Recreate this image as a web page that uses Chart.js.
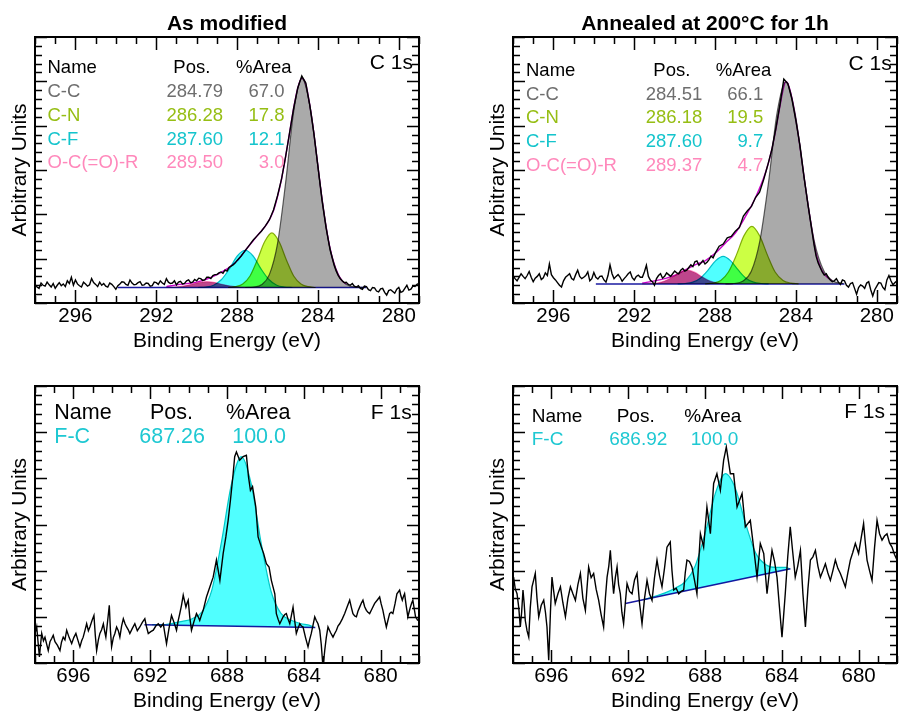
<!DOCTYPE html>
<html><head><meta charset="utf-8">
<script src="https://cdn.jsdelivr.net/npm/chart.js@4.4.1/dist/chart.umd.min.js"></script>
<style>
html,body{margin:0;padding:0;background:#fff;}
body{width:900px;height:717px;overflow:hidden;position:relative;}
canvas{position:absolute;}
</style></head>
<body>
<canvas id="c1" width="450" height="360" style="left:0;top:0"></canvas>
<canvas id="c2" width="450" height="360" style="left:450px;top:0"></canvas>
<canvas id="c3" width="450" height="360" style="left:0;top:360px"></canvas>
<canvas id="c4" width="450" height="360" style="left:450px;top:360px"></canvas>
<script>
// ---------- tick labels ----------
const xTicksC1s = [296, 292, 288, 284, 280];
const xTicksF1s = [696, 692, 688, 684, 680];

// ---------- legend tables ----------
const c1sNames = ['C-C', 'C-N', 'C-F', 'O-C(=O)-R'];
const c1sModPos = ['284.79', '286.28', '287.60', '289.50'];
const c1sModArea = ['67.0', '17.8', '12.1', '3.0'];
const c1sAnnPos = ['284.51', '286.18', '287.60', '289.37'];
const c1sAnnArea = ['66.1', '19.5', '9.7', '4.7'];
const f1sNames = ['F-C'];
const f1sModPos = ['687.26'];
const f1sModArea = ['100.0'];
const f1sAnnPos = ['686.92'];
const f1sAnnArea = ['100.0'];

// ---------- C 1s, as modified: raw spectrum [eV, counts] ----------
const c1sModRaw = [
[298.0,.42],[297.9,.36],[297.8,.33],[297.7,.45],[297.6,.40],[297.5,.38],[297.4,.47],[297.3,.41],[297.2,.36],[297.1,.44],
[297.0,.33],[296.9,.40],[296.8,.46],[296.7,.39],[296.6,.43],[296.5,.37],[296.4,.50],[296.3,.44],[296.2,.58],[296.1,.40],
[296.0,.52],[295.9,.43],[295.8,.39],[295.7,.36],[295.6,.47],[295.5,.43],[295.4,.38],[295.3,.41],[295.2,.55],[295.1,.46],
[295.0,.42],[294.9,.37],[294.8,.47],[294.7,.40],[294.6,.44],[294.5,.38],[294.4,.36],[294.3,.45],[294.2,.42],[294.1,.37],
[294.0,.31],[293.9,.39],[293.8,.43],[293.7,.48],[293.6,.47],[293.5,.42],[293.4,.40],[293.3,.52],[293.2,.45],[293.1,.41],
[293.0,.42],[292.9,.46],[292.8,.48],[292.7,.40],[292.6,.41],[292.5,.45],[292.4,.44],[292.3,.38],[292.2,.39],[292.1,.47],
[292.0,.46],[291.9,.42],[291.8,.50],[291.7,.45],[291.6,.42],[291.5,.55],[291.4,.47],[291.3,.44],[291.2,.45],[291.1,.50],
[291.0,.41],[290.9,.47],[290.8,.49],[290.7,.43],[290.6,.44],[290.5,.50],[290.4,.52],[290.3,.46],[290.2,.47],[290.1,.53],
[290.0,.50],[289.9,.56],[289.8,.55],[289.7,.51],[289.6,.52],[289.5,.58],[289.4,.58],[289.3,.55],[289.2,.62],[289.1,.64],
[289.0,.64],[288.9,.68],[288.8,.70],[288.7,.67],[288.6,.74],[288.5,.72],[288.4,.80],[288.3,.83],[288.2,.86],[288.1,.90],
[288.0,.96],[287.8,1.06],[287.6,1.18],[287.4,1.30],[287.2,1.42],[287.0,1.52],[286.8,1.62],[286.6,1.74],[286.4,1.88],[286.2,2.10],
[286.0,2.42],[285.8,2.80],[285.6,3.30],[285.4,3.85],[285.2,4.40],[285.0,4.85],[284.8,5.12],[284.6,4.96],[284.4,4.45],[284.2,3.82],
[284.0,3.08],[283.8,2.32],[283.6,1.70],[283.4,1.20],[283.2,.85],
[283.1,.72],[283.0,.62],[282.9,.55],[282.8,.50],[282.7,.46],[282.6,.47],[282.5,.42],[282.4,.40],[282.3,.44],[282.2,.38],
[282.1,.36],[282.0,.39],[281.9,.33],[281.8,.31],[281.7,.38],[281.6,.37],[281.5,.30],[281.4,.28],[281.3,.35],[281.2,.34],
[281.1,.27],[281.0,.25],[280.9,.32],[280.8,.33],[280.7,.24],[280.6,.18],[280.5,.28],[280.4,.30],[280.3,.26],[280.2,.22],
[280.1,.31],[280.0,.35],[279.9,.24],[279.8,.26],[279.7,.33],[279.6,.40],[279.5,.29],[279.4,.31],[279.3,.38],[279.2,.37],
[279.1,.42],[279.0,.44]];
const c1sModEnvE = [291.5,291,290,289.5,289,288.5,288,287.5,287,286.5,286.2,286,285.8,285.6,285.4,285.2,285,284.8,284.6,284.4,284.2,284,283.8,283.6,283.4,283.2,283,282.8,282.6];
const c1sModEnv = [0.37,0.41,0.47,0.54,0.64,0.77,0.95,1.24,1.52,1.8,2.08,2.4,2.8,3.3,3.85,4.4,4.85,5.07,4.93,4.45,3.82,3.08,2.35,1.73,1.23,0.88,0.645,0.5,0.43];
const c1sModBaseE = [293.9, 281.6];
const c1sModBase = [0.35, 0.35];
const c1sModCCE = [281.65,282.1,282.55,283.0,283.45,283.9,284.35,284.8,285.2,285.6,286.0,286.4,286.8,287.2,287.6];
const c1sModCC = [0.35,0.36,0.41,0.645,1.34,2.71,4.32,5.07,4.32,2.71,1.34,0.645,0.41,0.36,0.35];
const c1sModCNE = [284.12,284.48,284.84,285.20,285.56,285.92,286.28,286.64,287.00,287.36,287.72,288.08,288.44];
const c1sModCN = [0.35,0.37,0.43,0.61,0.97,1.38,1.58,1.38,0.97,0.61,0.43,0.37,0.35];
const c1sModCFE = [285.26,285.65,286.04,286.43,286.82,287.21,287.60,287.99,288.38,288.77,289.16,289.55,289.94];
const c1sModCF = [0.35,0.36,0.40,0.53,0.77,1.06,1.19,1.06,0.77,0.53,0.40,0.36,0.35];
const c1sModOCE = [287.5,287.9,288.3,288.7,289.1,289.5,289.9,290.3,290.7,291.1,291.5];
const c1sModOC = [0.35,0.36,0.38,0.415,0.46,0.48,0.46,0.415,0.38,0.36,0.35];

// ---------- C 1s, annealed ----------
const c1sAnnRaw = [
[298.0,.62],[297.9,.55],[297.8,.50],[297.7,.58],[297.6,.66],[297.5,.60],[297.4,.55],[297.3,.62],[297.2,.71],[297.1,.58],
[297.0,.48],[296.9,.56],[296.8,.60],[296.7,.66],[296.6,.53],[296.5,.57],[296.4,.68],[296.3,.62],[296.2,.88],[296.1,.64],
[296.0,.57],[295.9,.52],[295.8,.46],[295.7,.40],[295.6,.36],[295.5,.50],[295.4,.58],[295.3,.62],[295.2,.66],[295.1,.55],
[295.0,.52],[294.9,.64],[294.8,.74],[294.7,.60],[294.6,.55],[294.5,.58],[294.4,.62],[294.3,.70],[294.2,.50],[294.1,.55],
[294.0,.69],[293.9,.58],[293.8,.54],[293.7,.60],[293.6,.61],[293.5,.52],[293.4,.47],[293.3,.62],[293.2,.86],[293.1,.66],
[293.0,.55],[292.9,.60],[292.8,.64],[292.7,.58],[292.6,.49],[292.5,.55],[292.4,.60],[292.3,.66],[292.2,.70],[292.1,.57],
[292.0,.52],[291.9,.60],[291.8,.63],[291.7,.58],[291.6,.58],[291.5,.70],[291.4,.85],[291.3,.60],[291.2,.51],[291.1,.48],
[291.0,.40],[290.9,.55],[290.8,.62],[290.7,.66],[290.6,.56],[290.5,.60],[290.4,.68],[290.3,.64],[290.2,.60],[290.1,.66],
[290.0,.72],[289.9,.68],[289.8,.66],[289.7,.74],[289.6,.78],[289.5,.72],[289.4,.74],[289.3,.80],[289.2,.86],[289.1,.82],
[289.0,.93],[288.9,.95],[288.8,.85],[288.7,.90],[288.6,.96],[288.5,.88],[288.4,.92],[288.3,.98],[288.2,1.06],[288.1,1.02],
[288.0,1.12],[287.8,1.28],[287.6,1.33],[287.4,1.47],[287.2,1.50],[287.0,1.62],[286.8,1.70],[286.6,1.96],[286.4,2.08],[286.2,2.18],
[286.0,2.38],[285.8,2.50],[285.6,2.78],[285.4,3.10],[285.2,3.45],[285.0,3.92],[284.8,4.45],[284.6,5.05],[284.4,4.95],[284.2,4.60],
[284.0,4.10],[283.8,3.55],[283.6,2.85],[283.4,2.20],[283.2,1.60],
[283.1,1.30],[283.0,1.05],[282.9,.90],[282.8,.80],[282.7,.70],[282.6,.63],[282.5,.66],[282.4,.58],[282.3,.52],[282.2,.48],
[282.1,.50],[282.0,.55],[281.9,.47],[281.8,.42],[281.7,.52],[281.6,.50],[281.5,.40],[281.4,.36],[281.3,.44],[281.2,.46],
[281.1,.33],[281.0,.20],[280.9,.35],[280.8,.41],[280.7,.38],[280.6,.33],[280.5,.45],[280.4,.48],[280.3,.30],[280.2,.16],
[280.1,.30],[280.0,.38],[279.9,.46],[279.8,.45],[279.7,.35],[279.6,.30],[279.5,.52],[279.4,.62],[279.3,.50],[279.2,.41],
[279.1,.46],[279.0,.50]];
const c1sAnnEnvE = [291.6,291,290.5,290,289.5,289,288.5,288,287.5,287,286.5,286,285.5,285.2,285,284.8,284.6,284.51,284.4,284.2,284,283.8,283.6,283.4,283.2,283,282.8,282.6,282.4,282.2];
const c1sAnnEnv = [0.45,0.5,0.55,0.62,0.74,0.86,0.95,1.12,1.35,1.58,1.95,2.38,2.95,3.45,3.9,4.42,4.88,4.99,4.95,4.62,4.12,3.52,2.84,2.2,1.62,1.1,0.82,0.65,0.56,0.5];
const c1sAnnBaseE = [293.9, 281.6];
const c1sAnnBase = [0.43, 0.43];
const c1sAnnCCE = [281.66,282.14,282.61,283.09,283.56,284.04,284.51,284.94,285.36,285.79,286.21,286.64,287.06,287.49];
const c1sAnnCC = [0.44,0.49,0.715,1.39,2.71,4.27,4.99,4.27,2.71,1.39,0.715,0.49,0.44,0.43];
const c1sAnnCNE = [283.87,284.26,284.64,285.03,285.41,285.80,286.18,286.57,286.95,287.34,287.72,288.11,288.49];
const c1sAnnCN = [0.43,0.45,0.51,0.70,1.08,1.52,1.73,1.52,1.08,0.70,0.51,0.45,0.43];
const c1sAnnCFE = [285.35,285.73,286.10,286.48,286.85,287.23,287.60,287.98,288.35,288.73,289.10,289.48,289.85];
const c1sAnnCF = [0.43,0.44,0.47,0.56,0.74,0.95,1.05,0.95,0.74,0.56,0.47,0.44,0.43];
const c1sAnnOCE = [287.12,287.50,287.87,288.25,288.62,289.00,289.37,289.75,290.12,290.50,290.87,291.25,291.62];
const c1sAnnOC = [0.43,0.435,0.45,0.495,0.585,0.69,0.74,0.69,0.585,0.495,0.45,0.435,0.43];

// ---------- F 1s, as modified ----------
const f1sModRaw = [
[698.00,.92],[697.95,.70],[697.91,.78],[697.84,.45],[697.77,.13],[697.71,.40],[697.65,.64],[697.56,.48],[697.48,.56],[697.40,.42],
[697.31,.27],[697.22,.46],[697.13,.53],[697.05,.60],[696.96,.46],[696.83,.38],[696.70,.27],[696.62,.45],[696.53,.56],[696.44,.50],
[696.35,.71],[696.22,.55],[696.09,.42],[695.98,.55],[695.87,.64],[695.77,.50],[695.66,.35],[695.57,.48],[695.49,.56],[695.40,.70],
[695.31,.85],[695.22,.70],[695.14,.78],[695.03,.92],[694.93,1.03],[694.86,.60],[694.79,.27],[694.70,.50],[694.62,.64],[694.53,.72],
[694.44,.85],[694.37,.68],[694.31,.56],[694.22,.90],[694.13,1.25],[694.07,.70],[694.01,.35],[693.92,.55],[693.84,.64],[693.75,.78],
[693.66,.70],[693.58,.56],[693.49,.80],[693.40,.96],[693.31,.85],[693.23,.78],[693.14,.72],[693.06,.64],[692.93,.75],[692.80,.85],
[692.67,.70],[692.54,.78],[692.41,.88],[692.28,.96],[692.19,.78],[692.10,.64],[691.97,.68],[691.84,.71],[691.71,.80],[691.58,.85],
[691.45,.78],[691.32,.85],[691.23,.62],[691.15,.42],[691.02,.75],[690.89,1.03],[690.76,.88],[690.63,.71],[690.55,.90],[690.46,1.07],
[690.37,1.25],[690.28,1.47],[690.14,1.21],[690.08,1.30],[690.02,1.36],[689.94,1.00],[689.85,.71],[689.72,.90],[689.59,1.07],[689.50,1.00],
[689.42,.92],[689.33,1.04],[689.24,1.14],[689.07,1.43],[688.89,1.65],[688.72,1.86],[688.55,2.23],[688.37,1.79],[688.20,2.37],[688.06,2.73],
[687.94,3.09],[687.82,3.53],[687.68,4.10],[687.60,4.47],[687.51,4.57],[687.34,4.39],[687.16,4.47],[686.99,4.50],[686.88,4.03],[686.78,3.74],
[686.67,3.82],[686.61,3.67],[686.50,3.38],[686.38,2.73],[686.21,2.51],[686.09,2.37],[685.95,2.15],[685.81,2.08],[685.69,1.79],[685.51,1.50],
[685.43,1.07],[685.34,.95],[685.25,.85],[685.17,.92],[685.08,1.00],[684.99,1.05],[684.91,1.07],[684.82,.95],[684.73,.85],[684.65,1.02],
[684.56,1.21],[684.47,.90],[684.39,.64],[684.30,.75],[684.21,.85],[684.12,.80],[684.04,.78],[683.91,.55],[683.78,.35],[683.70,.50],
[683.61,.64],[683.52,.82],[683.43,1.00],[683.35,.92],[683.26,.85],[683.17,.71],[683.09,.40],[683.00,-0.10],[682.91,.27],[682.83,.55],
[682.74,.78],[682.61,.66],[682.48,.56],[682.39,.64],[682.30,.71],[682.22,.80],[682.13,.85],[682.00,.95],[681.87,1.07],[681.74,1.22],
[681.61,1.36],[681.52,1.20],[681.44,1.07],[681.35,1.02],[681.26,1.00],[681.18,1.12],[681.09,1.21],[681.00,1.30],[680.92,1.36],[680.83,1.22],
[680.74,1.14],[680.66,1.10],[680.57,1.07],[680.44,1.18],[680.31,1.29],[680.18,1.36],[680.05,1.43],[679.97,1.28],[679.88,1.14],[679.79,.95],
[679.70,.78],[679.62,.92],[679.53,1.07],[679.45,1.10],[679.36,1.07],[679.25,1.28],[679.15,1.50],[679.01,1.58],[678.94,1.45],[678.87,1.36],
[678.81,1.44],[678.75,1.50],[678.67,1.25],[678.58,1.00],[678.52,1.10],[678.45,1.21],[678.38,1.30],[678.32,1.36],[678.25,1.18],[678.18,1.00],
[678.12,.96],[678.06,.92]];
const f1sModBaseE = [692.3, 683.4];
const f1sModBase = [0.83, 0.77];
const f1sModFCE = [683.45,683.66,684.18,684.69,685.20,685.71,686.23,686.74,687.25,687.76,688.28,688.79,689.30,689.81,690.33,690.84,691.35,691.90];
const f1sModFC = [0.77,0.81,0.855,0.93,1.08,1.56,2.62,3.88,4.47,3.89,2.64,1.58,1.11,0.96,0.90,0.86,0.83,0.83];

// ---------- F 1s, annealed ----------
const f1sAnnRaw = [
[697.97,1.86],[697.88,1.60],[697.79,1.50],[697.70,1.20],[697.62,.78],[697.55,1.10],[697.48,1.58],[697.42,1.30],[697.36,.92],[697.27,.70],
[697.18,.56],[697.10,1.20],[697.01,1.65],[696.92,1.80],[696.84,1.94],[696.75,1.40],[696.66,1.00],[696.53,1.25],[696.40,1.36],[696.31,1.10],
[696.23,.78],[696.14,.06],[696.05,1.10],[695.97,1.86],[695.88,1.55],[695.80,1.29],[695.66,1.50],[695.53,1.65],[695.40,1.30],[695.27,1.00],
[695.14,1.40],[695.01,1.65],[694.88,1.50],[694.75,1.36],[694.62,1.70],[694.49,1.94],[694.36,1.40],[694.23,1.14],[694.15,1.60],[694.06,2.08],
[693.93,1.85],[693.80,1.94],[693.67,1.60],[693.54,1.36],[693.41,1.05],[693.28,.78],[693.19,1.40],[693.10,1.86],[693.01,2.10],[692.93,2.44],
[692.84,1.90],[692.76,1.50],[692.67,1.85],[692.58,2.08],[692.50,1.70],[692.41,1.50],[692.33,1.10],[692.24,.85],[692.15,1.30],[692.06,1.72],
[691.93,1.55],[691.80,1.50],[691.67,1.80],[691.54,1.94],[691.41,1.30],[691.28,.85],[691.15,1.40],[691.02,1.79],[690.89,1.50],[690.76,1.36],
[690.63,1.85],[690.50,2.23],[690.37,1.90],[690.24,1.65],[690.11,2.05],[689.98,2.51],[689.81,2.62],[689.72,2.00],[689.63,1.58],[689.50,1.62],
[689.37,1.50],[689.24,1.55],[689.11,1.58],[689.03,1.95],[688.94,2.23],[688.81,2.20],[688.68,2.08],[688.55,1.80],[688.42,1.50],[688.33,2.20],
[688.24,2.80],[688.07,2.51],[687.90,3.38],[687.72,2.80],[687.55,3.89],[687.38,4.10],[687.20,3.74],[687.03,4.39],[686.89,4.68],[686.68,4.10],
[686.51,4.10],[686.33,3.38],[686.07,3.67],[685.90,2.95],[685.64,3.09],[685.47,2.51],[685.29,1.86],[685.12,2.59],[684.94,2.37],[684.77,1.50],
[684.64,2.00],[684.51,2.44],[684.38,2.20],[684.25,1.86],[684.12,1.20],[683.99,.56],[683.91,1.00],[683.82,1.50],[683.69,2.30],[683.56,2.95],
[683.43,2.40],[683.30,1.86],[683.17,2.10],[683.03,2.44],[682.90,1.50],[682.77,.78],[682.64,1.60],[682.51,2.23],[682.38,2.30],[682.25,2.44],
[682.12,2.10],[681.99,1.86],[681.86,2.00],[681.73,2.15],[681.60,1.95],[681.47,1.79],[681.34,2.00],[681.21,2.23],[681.08,2.05],[680.95,1.94],
[680.82,1.80],[680.69,1.65],[680.56,1.95],[680.43,2.23],[680.30,2.40],[680.17,2.59],[680.00,2.37],[679.87,2.70],[679.74,3.02],[679.65,2.60],
[679.56,2.23],[679.43,2.00],[679.30,1.79],[679.17,2.50],[679.04,3.09],[678.91,2.80],[678.78,2.66],[678.65,2.75],[678.52,2.80],[678.39,2.60],
[678.26,2.51],[678.13,2.35],[678.00,2.23]];
const f1sAnnBaseE = [692.15, 683.55];
const f1sAnnBase = [1.29, 2.04];
const f1sAnnFCE = [683.60,683.78,684.31,684.83,685.36,685.88,686.41,686.93,687.46,687.98,688.51,689.03,689.56,690.08,690.61,691.13];
const f1sAnnFC = [2.04,2.07,2.07,2.13,2.38,3.01,3.77,4.10,3.675,2.83,2.10,1.76,1.62,1.52,1.445,1.38];

// ---------- styling ----------
const FONT = "'Liberation Sans', Arial, Helvetica, sans-serif";
const COL = {
  cc:  {fill: 'rgb(170,170,170)', line: 'rgb(100,100,100)', text: 'rgb(110,110,110)'},
  cn:  {fill: 'rgb(204,255,68)',  line: 'rgb(150,175,20)',  text: 'rgb(150,190,20)'},
  cf:  {fill: 'rgb(80,255,255)',  line: 'rgb(0,190,200)',   text: 'rgb(20,196,204)'},
  oc:  {fill: 'rgb(190,70,140)',  line: 'rgb(255,140,200)', text: 'rgb(255,136,187)'},
  fc:  {fill: 'rgb(80,255,255)',  line: 'rgb(0,200,200)',   text: 'rgb(30,200,210)'}
};

function pts(xs, ys) {
  return xs.map((x, i) => ({x: x, y: ys[i]})).sort((a, b) => a.x - b.x);
}
function pairPts(list) {
  return list.map(p => ({x: p[0], y: p[1]})).sort((a, b) => a.x - b.x);
}

function makePanel(cfg) {
  const datasets = [];
  datasets.push({data: pairPts(cfg.raw), borderColor: '#000', borderWidth: 1.4,
    pointRadius: 0, tension: 0, fill: false, order: 0});
  if (cfg.envE) {
    datasets.push({data: pts(cfg.envE, cfg.env), borderColor: 'rgb(200,0,200)', borderWidth: 1.4,
      pointRadius: 0, cubicInterpolationMode: 'monotone', fill: false, order: 1});
  }
  const baseIndex = datasets.length;
  datasets.push({data: pts(cfg.baseE, cfg.base), borderColor: 'rgb(25,25,160)', borderWidth: 1.6,
    pointRadius: 0, tension: 0, fill: false, order: 2});
  cfg.comps.forEach((c, k) => {
    datasets.push({data: pts(c.e, c.v), borderColor: c.col.line, backgroundColor: c.col.fill,
      borderWidth: 1.2, pointRadius: 0, cubicInterpolationMode: 'monotone',
      fill: baseIndex, order: 3 + k});
  });

  const plugin = {
    id: 'xps_' + cfg.id,
    beforeDraw(chart) {
      const c = chart.ctx;
      c.save(); c.globalCompositeOperation = 'source-over';
      c.fillStyle = '#fff'; c.fillRect(0, 0, chart.width, chart.height); c.restore();
    },
    beforeDatasetsDraw(chart) { chart.ctx.globalCompositeOperation = 'multiply'; },
    afterDatasetsDraw(chart) {
      const c = chart.ctx;
      c.globalCompositeOperation = 'source-over';
      const a = chart.chartArea, xs = chart.scales.x, ys = chart.scales.y;
      c.save();
      c.strokeStyle = '#000';
      c.lineWidth = 1.5;
      c.beginPath();
      for (let v = Math.ceil(xs.min); v <= xs.max; v++) {
        const len = cfg.xTicks.indexOf(v) >= 0 ? 13 : 7;
        const px = Math.round(xs.getPixelForValue(v)) + 0.5;
        c.moveTo(px, a.bottom); c.lineTo(px, a.bottom - len);
        c.moveTo(px, a.top); c.lineTo(px, a.top + len);
      }
      for (let i = 0; i <= 30; i++) {
        const len = i % 5 === 0 ? 12 : 7;
        const py = Math.round(ys.getPixelForValue(i * 0.2)) + 0.5;
        c.moveTo(a.left, py); c.lineTo(a.left + len, py);
        c.moveTo(a.right, py); c.lineTo(a.right - len, py);
      }
      c.stroke();
      c.lineWidth = 2;
      c.strokeRect(a.left, a.top, a.right - a.left, a.bottom - a.top);
      c.restore();
    },
    afterDraw(chart) {
      const c = chart.ctx, a = chart.chartArea, L = cfg.legend;
      c.save();
      c.textBaseline = 'alphabetic';
      if (cfg.title) {
        c.font = 'bold 21px ' + FONT; c.fillStyle = '#000'; c.textAlign = 'center';
        c.fillText(cfg.title, (a.left + a.right) / 2, 30);
      }
      c.font = '21px ' + FONT; c.fillStyle = '#000'; c.textAlign = 'right';
      c.fillText(cfg.label, cfg.labelX, cfg.labelY);
      c.font = L.size + 'px ' + FONT;
      c.textAlign = 'left';
      c.fillText('Name', L.nameX, L.headY);
      c.fillText('Pos.', L.posHeadX, L.headY);
      c.fillText('%Area', L.areaHeadX, L.headY);
      cfg.names.forEach((n, i) => {
        const y = L.rowY0 + i * L.rowDy;
        c.fillStyle = cfg.textCols[i];
        c.textAlign = 'left'; c.fillText(n, L.nameX, y);
        c.textAlign = 'right'; c.fillText(cfg.pos[i], L.posRight, y);
        c.fillText(cfg.area[i], L.areaRight, y);
      });
      c.restore();
    }
  };

  return new Chart(document.getElementById(cfg.id), {
    type: 'line',
    data: {datasets: datasets},
    plugins: [plugin],
    options: {
      responsive: false, animation: false, devicePixelRatio: 1,
      layout: {padding: {left: cfg.padL, right: cfg.padR, top: cfg.padT, bottom: 0}},
      plugins: {legend: {display: false}, tooltip: {enabled: false}, title: {display: false}},
      scales: {
        x: {
          type: 'linear', reverse: true, min: cfg.xmin, max: cfg.xmax,
          afterBuildTicks: s => { s.ticks = cfg.xTicks.map(v => ({value: v})); },
          afterFit: s => { s.height = 57; },
          grid: {display: false, drawTicks: false}, border: {display: false},
          ticks: {autoSkip: false, maxRotation: 0, padding: 1, color: '#000',
            font: {family: FONT, size: 20.5}, callback: v => String(v)},
          title: {display: true, text: 'Binding Energy (eV)', color: '#000',
            font: {family: FONT, size: 21}, padding: {top: 0, bottom: 6.4}}
        },
        y: {
          type: 'linear', min: 0, max: 6,
          afterFit: s => { s.width = 35; },
          grid: {display: false, drawTicks: false}, border: {display: false},
          ticks: {display: false},
          title: {display: true, text: 'Arbitrary Units', color: '#000',
            font: {family: FONT, size: 21}, padding: {top: 8, bottom: 0}}
        }
      }
    }
  });
}

makePanel({
  id: 'c1', padL: 0, padR: 31, padT: 37, xmin: 279, xmax: 298, xTicks: xTicksC1s,
  title: 'As modified', label: 'C 1s', labelX: 413, labelY: 68.5,
  raw: c1sModRaw, envE: c1sModEnvE, env: c1sModEnv,
  baseE: c1sModBaseE, base: c1sModBase,
  comps: [
    {e: c1sModCCE, v: c1sModCC, col: COL.cc},
    {e: c1sModCNE, v: c1sModCN, col: COL.cn},
    {e: c1sModCFE, v: c1sModCF, col: COL.cf},
    {e: c1sModOCE, v: c1sModOC, col: COL.oc}
  ],
  names: c1sNames, pos: c1sModPos, area: c1sModArea,
  textCols: [COL.cc.text, COL.cn.text, COL.cf.text, COL.oc.text],
  legend: {size: 18.5, nameX: 47.5, headY: 73, posHeadX: 173.3, areaHeadX: 236,
    posRight: 223, areaRight: 284.5, rowY0: 97, rowDy: 23.8}
});

makePanel({
  id: 'c2', padL: 28, padR: 3, padT: 37, xmin: 279, xmax: 298, xTicks: xTicksC1s,
  title: 'Annealed at 200°C for 1h', label: 'C 1s', labelX: 441.7, labelY: 70,
  raw: c1sAnnRaw, envE: c1sAnnEnvE, env: c1sAnnEnv,
  baseE: c1sAnnBaseE, base: c1sAnnBase,
  comps: [
    {e: c1sAnnCCE, v: c1sAnnCC, col: COL.cc},
    {e: c1sAnnCNE, v: c1sAnnCN, col: COL.cn},
    {e: c1sAnnCFE, v: c1sAnnCF, col: COL.cf},
    {e: c1sAnnOCE, v: c1sAnnOC, col: COL.oc}
  ],
  names: c1sNames, pos: c1sAnnPos, area: c1sAnnArea,
  textCols: [COL.cc.text, COL.cn.text, COL.cf.text, COL.oc.text],
  legend: {size: 18.5, nameX: 76, headY: 76, posHeadX: 203.3, areaHeadX: 265.7,
    posRight: 252.3, areaRight: 313.3, rowY0: 99.5, rowDy: 23.8}
});

makePanel({
  id: 'c3', padL: 0, padR: 31, padT: 26, xmin: 678, xmax: 698, xTicks: xTicksF1s,
  title: null, label: 'F 1s', labelX: 411.7, labelY: 59.3,
  raw: f1sModRaw,
  baseE: f1sModBaseE, base: f1sModBase,
  comps: [{e: f1sModFCE, v: f1sModFC, col: COL.fc}],
  names: f1sNames, pos: f1sModPos, area: f1sModArea,
  textCols: [COL.fc.text],
  legend: {size: 21.5, nameX: 54.3, headY: 59.3, posHeadX: 150, areaHeadX: 226,
    posRight: 205, areaRight: 286, rowY0: 83.3, rowDy: 24}
});

makePanel({
  id: 'c4', padL: 28, padR: 3, padT: 26, xmin: 678, xmax: 698, xTicks: xTicksF1s,
  title: null, label: 'F 1s', labelX: 435, labelY: 58.3,
  raw: f1sAnnRaw,
  baseE: f1sAnnBaseE, base: f1sAnnBase,
  comps: [{e: f1sAnnFCE, v: f1sAnnFC, col: COL.fc}],
  names: f1sNames, pos: f1sAnnPos, area: f1sAnnArea,
  textCols: [COL.fc.text],
  legend: {size: 19, nameX: 81.7, headY: 61.7, posHeadX: 166.7, areaHeadX: 234.3,
    posRight: 217.3, areaRight: 288.3, rowY0: 85, rowDy: 24}
});
</script>
</body></html>
